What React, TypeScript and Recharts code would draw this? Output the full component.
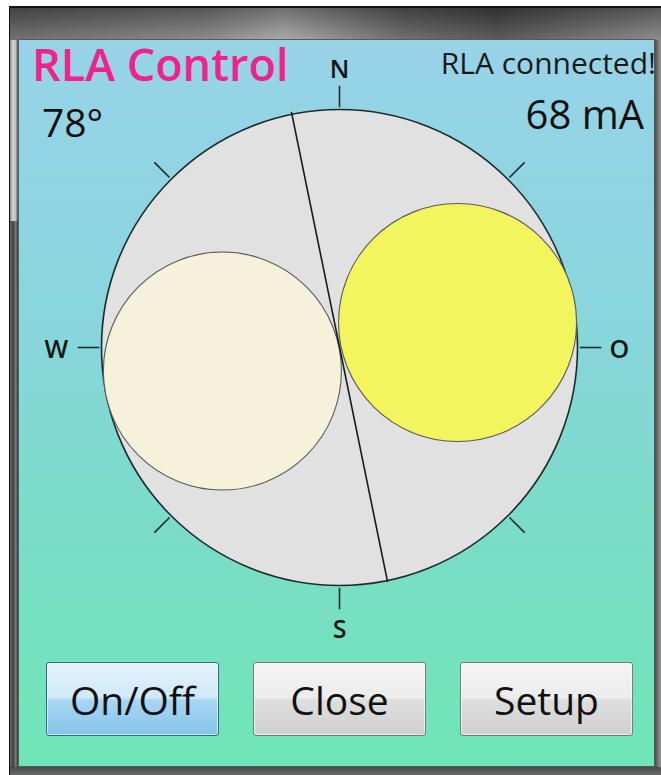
import React from 'react';
import { ScatterChart, Scatter, XAxis, YAxis } from 'recharts';

// dial geometry, in units of the dial radius (centre 0,0, north up)
const dial = [{ x: 0, y: 0, r: 1 }];
const heading = [{ x: -0.202, y: 0.99 }, { x: 0.202, y: -0.985 }];
const leftLamp = [{ x: -0.492, y: -0.099, r: 0.5 }];
const rightLamp = [{ x: 0.496, y: 0.105, r: 0.5 }];
const tickAngles = [0, 45, 90, 135, 180, 225, 270, 315];
const tickRadii = [1.01, 1.1];
const cardinals = [
  { label: 'N', x: 0, y: 1.175 },
  { label: 'O', x: 1.176, y: 0 },
  { label: 'S', x: 0, y: -1.18 },
  { label: 'W', x: -1.19, y: 0 },
];
const buttons = ['On/Off', 'Close', 'Setup'];

const CX = 339;
const CY = 347;
const UNIT = 238;
const SPAN = 1.25;
const SIZE = 2 * SPAN * UNIT;
const FONT = '"Open Sans", "Noto Sans", sans-serif';

const tickSegments = tickAngles.map((a) => {
  const rad = (a * Math.PI) / 180;
  return tickRadii.map((r) => ({ x: r * Math.sin(rad), y: r * Math.cos(rad) }));
});

const circleShape = (fill: string, stroke: string, sw: number) => (p: any) => (
  <circle cx={p.cx} cy={p.cy} r={p.payload.r * UNIT} fill={fill} stroke={stroke} strokeWidth={sw} />
);

const labelShape = (p: any) => (
  <text x={p.cx} y={p.cy} textAnchor="middle" dominantBaseline="central"
    fontFamily={FONT} fontSize={25} fontWeight={600} fill="#161616">
    {p.payload.label}
  </text>
);

function Dial() {
  return (
    <ScatterChart width={SIZE} height={SIZE} margin={{ top: 0, right: 0, bottom: 0, left: 0 }}>
      <XAxis type="number" dataKey="x" domain={[-SPAN, SPAN]} allowDataOverflow hide />
      <YAxis type="number" dataKey="y" domain={[-SPAN, SPAN]} allowDataOverflow hide />
      <Scatter data={dial} shape={circleShape('#e1e1e1', '#1b2c2e', 1.6)} isAnimationActive={false} />
      {tickSegments.map((seg, i) => (
        <Scatter key={`tick-${i}`} data={seg} line={{ stroke: '#1b2c2e', strokeWidth: 1.6 }}
          shape={() => <g />} isAnimationActive={false} />
      ))}
      <Scatter data={leftLamp} shape={circleShape('#f5f1db', '#5a5a5a', 1.1)} isAnimationActive={false} />
      <Scatter data={rightLamp} shape={circleShape('#f2f55e', '#5a5a5a', 1.1)} isAnimationActive={false} />
      <Scatter data={heading} line={{ stroke: '#1a1a1a', strokeWidth: 1.6 }} shape={() => <g />} isAnimationActive={false} />
      <Scatter data={cardinals} shape={labelShape} isAnimationActive={false} />
    </ScatterChart>
  );
}

const abs = (left: number, top: number, extra: React.CSSProperties = {}): React.CSSProperties => ({
  position: 'absolute', left, top, ...extra,
});

export default function App() {
  const btnLeft = [46, 253, 460];
  return (
    <div style={{ position: 'absolute', left: 0, top: 0, width: 661, height: 775, background: '#fff', overflow: 'hidden', fontFamily: FONT }}>
      {/* window frame */}
      <div style={abs(9, 6, { width: 652, height: 769, background: '#111' })} />
      <div style={abs(10, 8, { width: 651, height: 32, background: 'linear-gradient(90deg, #5e5e5e 0%, #7c7c7c 30%, #a0a0a0 42%, #5e5e5e 60%, #464646 75%, #7e7e7e 100%)' })} />
      <div style={abs(10, 8, { width: 651, height: 32, background: 'linear-gradient(180deg, rgba(0,0,0,0.3), rgba(255,255,255,0.12))' })} />
      <div style={abs(10, 40, { width: 8, height: 181, background: 'linear-gradient(90deg, #8e8e8e, #d6d6d6 40%, #bdbdbd 70%, #505050)' })} />
      <div style={abs(10, 221, { width: 8, height: 554, background: 'linear-gradient(90deg, #6a6a6a, #3f3f3f 40%, #7a7a7a 70%, #404040)' })} />
      <div style={abs(655, 40, { width: 6, height: 735, background: 'linear-gradient(90deg, #4a4a4a, #9a9a9a)' })} />
      <div style={abs(10, 767, { width: 651, height: 8, background: 'linear-gradient(180deg, #4a4a4a, #6a6a6a)' })} />
      {/* client area */}
      <div style={abs(18, 39, { width: 637, height: 728, boxSizing: 'border-box', border: '1px solid #4e5f60',
        background: 'linear-gradient(180deg, #98d3e8 0%, #88d6dc 40%, #7bdcc8 65%, #6fe6b6 100%)' })} />

      <div style={abs(32, 34, { fontSize: 45, fontWeight: 600, color: '#f0238b', lineHeight: '60px', whiteSpace: 'nowrap' })}>RLA Control</div>
      <div style={abs(380, 43, { width: 276, textAlign: 'right', fontSize: 30, color: '#1a1a1a', lineHeight: '40px', whiteSpace: 'nowrap' })}>RLA connected!</div>
      <div style={abs(42, 96, { fontSize: 39, color: '#111', lineHeight: '52px' })}>78°</div>
      <div style={abs(400, 88, { width: 244, textAlign: 'right', fontSize: 40, color: '#111', lineHeight: '52px' })}>68 mA</div>

      <div style={abs(CX - SPAN * UNIT, CY - SPAN * UNIT)}>
        <Dial />
      </div>

      {buttons.map((b, i) => (
        <div key={b} style={abs(btnLeft[i], 662, {
          width: 173, height: 74, boxSizing: 'border-box', borderRadius: 3,
          border: i === 0 ? '1px solid #2c6a94' : '1px solid #7a7a7a',
          background: i === 0
            ? 'linear-gradient(180deg, #e6f3fc 0%, #cfe8f8 48%, #a8d6f3 52%, #86c3ea 100%)'
            : 'linear-gradient(180deg, #f4f4f4 0%, #ececec 48%, #dedede 52%, #d0d0d0 100%)',
          boxShadow: 'inset 0 0 0 1px rgba(255,255,255,0.6)',
          display: 'flex', alignItems: 'center', justifyContent: 'center',
          fontSize: 39, color: '#111',
        })}>{b}</div>
      ))}
    </div>
  );
}
